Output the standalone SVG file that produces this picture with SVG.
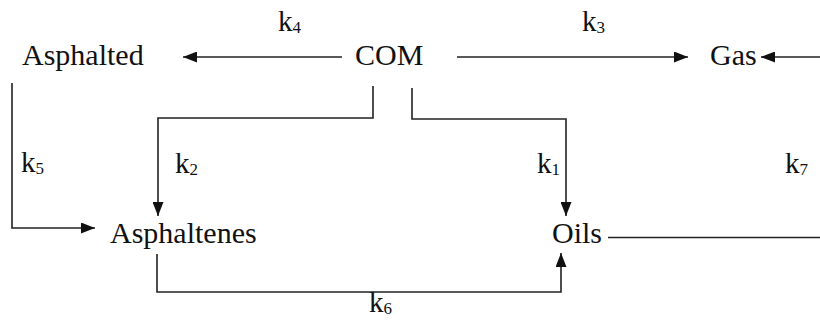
<svg xmlns="http://www.w3.org/2000/svg" width="820" height="322" viewBox="0 0 820 322">
<style>
.n{font-family:'Liberation Serif','Times New Roman',serif;font-size:30px;fill:#111}
.k{font-family:'Liberation Serif','Times New Roman',serif;font-size:29px;fill:#111}
.s{font-size:17px}
.c{fill:none;stroke:#222;stroke-width:1.6}
</style>
<defs>
<marker id="ah" markerUnits="userSpaceOnUse" markerWidth="14" markerHeight="11" refX="14" refY="5.5" orient="auto" viewBox="0 0 14 11">
<path d="M0,0 L14,5.5 L0,11 z" fill="#111"/>
</marker>
</defs>
<rect width="820" height="322" fill="#fff"/>
<g id="connectors">
<path class="c" d="M342,57 L183,57" marker-end="url(#ah)"/>
<path class="c" d="M457,57 L688,57" marker-end="url(#ah)"/>
<path class="c" d="M820,57 L761,57" marker-end="url(#ah)"/>
<path class="c" d="M373,86 L373,118 L158,118 L158,216" marker-end="url(#ah)"/>
<path class="c" d="M412,88 L412,119 L566,119 L566,216" marker-end="url(#ah)"/>
<path class="c" d="M12,83 L12,228 L95,228" marker-end="url(#ah)"/>
<path class="c" d="M157,254 L157,292 L561,292 L561,253" marker-end="url(#ah)"/>
<path class="c" d="M608,237.5 L820,237.5"/>
<text class="k" x="278" y="31">k<tspan class="s" dy="2">4</tspan></text>
<text class="k" x="582" y="31">k<tspan class="s" dy="2">3</tspan></text>
<text class="k" x="21" y="172">k<tspan class="s" dy="2">5</tspan></text>
<text class="k" x="175" y="173">k<tspan class="s" dy="2">2</tspan></text>
<text class="k" x="537" y="173">k<tspan class="s" dy="2">1</tspan></text>
<text class="k" x="785" y="173">k<tspan class="s" dy="2">7</tspan></text>
<text class="k" x="369" y="312">k<tspan class="s" dy="2">6</tspan></text>
</g>
<g id="asphalted"><text class="n" x="22" y="65">Asphalted</text></g>
<g id="com"><text class="n" x="355" y="65">COM</text></g>
<g id="gas"><text class="n" x="710" y="65">Gas</text></g>
<g id="asphaltenes"><text class="n" x="110" y="243">Asphaltenes</text></g>
<g id="oils"><text class="n" x="552" y="243">Oils</text></g>
</svg>
